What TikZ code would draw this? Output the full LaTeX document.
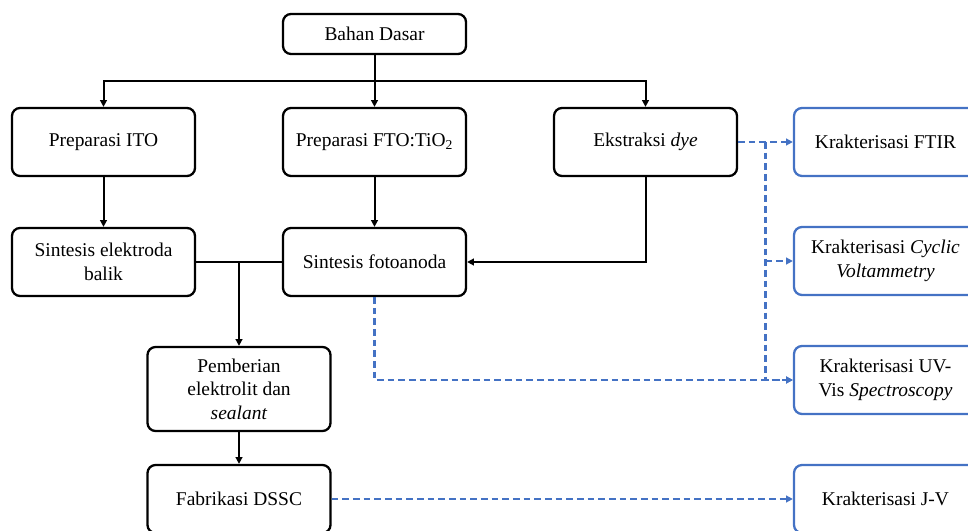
\documentclass[tikz,border=0pt]{standalone}
\usepackage{fontspec}
\setmainfont{Liberation Serif}
\usepackage{tikz}
\usetikzlibrary{positioning, arrows.meta, calc}
\definecolor{dashblue}{RGB}{68,114,196}

\begin{document}
\begin{tikzpicture}[>={Triangle[length=5pt,width=5pt]}, node distance=81pt, on grid, font=\fontsize{14.6}{17.6}\selectfont]
    \tikzset{
        box/.style={draw, line width=1.7pt, rounded corners=6pt, align=center, minimum width=137.25pt, minimum height=51pt, inner sep=2pt},
        bluebox/.style={box, draw=dashblue},
        link/.style={->, line width=1.5pt},
        dashlink/.style={->, line width=1.9pt, draw=dashblue, dash pattern=on 5pt off 3pt}
    }

    % FRAME
    \useasboundingbox (0,0) rectangle (726pt,-398.25pt);
    \clip (0,0) rectangle (726pt,-398.25pt);

    % MATERIAL
    \node[box, minimum height=30pt] (bahan) at (280.875pt,-25.5pt) {Bahan Dasar};

    % PREPARATION
    \node[box] (fto) [below=of bahan] {Preparasi FTO:TiO\textsubscript{2}};
    \node[box] (ito) [left=203.25pt of fto] {Preparasi ITO};
    \node[box] (dye) [right=203.25pt of fto] {Ekstraksi \textit{dye}};

    % SYNTHESIS
    \node[box] (elek) [below=90pt of ito] {Sintesis elektroda\\balik};
    \node[box] (foto) [below=90pt of fto] {Sintesis fotoanoda};
    \node[box, minimum height=63pt] (pemb) [below right=95.25pt and 101.625pt of elek] {Pemberian\\elektrolit dan\\\textit{sealant}};
    \node[box] (fab) [below=82.5pt of pemb] {Fabrikasi DSSC};

    % CHARACTERIZATION
    \node[bluebox] (ftir) [right=180pt of dye] {Krakterisasi FTIR};
    \node[bluebox] (cv) [below=89.25pt of ftir] {Krakterisasi \textit{Cyclic}\\\textit{Voltammetry}};
    \node[bluebox] (uv) [below=89.25pt of cv] {Krakterisasi UV-\\Vis \textit{Spectroscopy}};
    \node[bluebox] (jv) at (uv |- fab) {Krakterisasi J-V};

    % FLOW
    \coordinate (split) at ($(bahan.south)!0.5!(fto.north)$);
    \draw[link] (bahan.south) -- (fto.north);
    \draw[link] (split) -| (ito.north);
    \draw[link] (split) -| (dye.north);
    \draw[link] (ito) -- (elek);
    \draw[link] (fto) -- (foto);
    \draw[link] (dye.south) |- (foto.east);
    \draw[line width=1.5pt] (elek.east) -- (foto.west);
    \draw[link] (elek.east -| pemb.north) -- (pemb.north);
    \draw[link] (pemb) -- (fab);

    % CHARACTERIZATION LINKS
    \coordinate (hub) at ($(dye.east)!0.5!(ftir.west)$);
    \draw[dashlink] (dye.east) -- (ftir.west);
    \draw[dashlink] (hub) |- (uv.west);
    \draw[dashlink] (hub |- cv.west) -- (cv.west);
    \draw[dashlink] (foto.south) |- (uv.west);
    \draw[dashlink] (fab.east) -- (jv.west);

\end{tikzpicture}
\end{document}
